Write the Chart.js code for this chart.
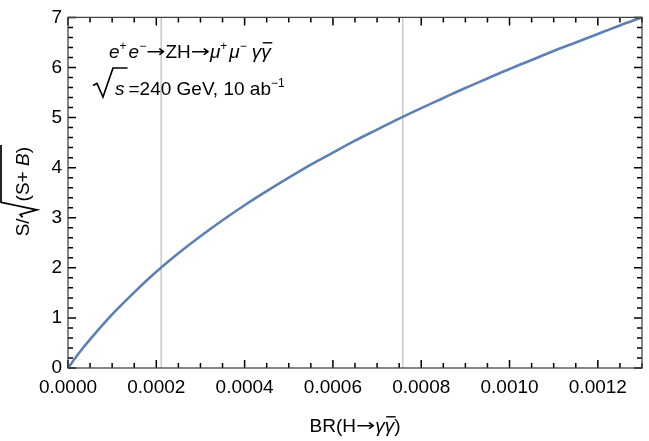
<!DOCTYPE html>
<html>
<head>
<meta charset="utf-8">
<script src="https://cdn.jsdelivr.net/npm/chart.js@4.4.0/dist/chart.umd.min.js"></script>
<style>
  html, body { margin: 0; padding: 0; background: #fff; }
  #wrap { width: 649px; height: 441px; }
</style>
</head>
<body>
<div id="wrap"><canvas id="chart"></canvas></div>
<script>
// values
const brValues = [0, 0.000025, 0.00005, 0.0001, 0.00015, 0.0002, 0.00025, 0.0003, 0.00035,
  0.0004, 0.00045, 0.0005, 0.00055, 0.0006, 0.00065, 0.0007, 0.00075, 0.0008, 0.00085,
  0.0009, 0.00095, 0.001, 0.00105, 0.0011, 0.00115, 0.0012, 0.00125, 0.0013];
const significance = [0, 0.30, 0.57, 1.07, 1.51, 1.92, 2.29, 2.63, 2.95,
  3.25, 3.53, 3.80, 4.06, 4.30, 4.54, 4.76, 4.98, 5.19, 5.39,
  5.59, 5.78, 5.97, 6.15, 6.33, 6.50, 6.67, 6.84, 7.00];
const refLines = [0.000211, 0.000758];
const xTickValues = [0, 0.0002, 0.0004, 0.0006, 0.0008, 0.0010, 0.0012];
const xRange = [0, 0.0013];
const yRange = [0, 7];

const FONT = 'Liberation Sans, Arial, sans-serif';
const ARROW_FONT = 'DejaVu Sans';
const ARROW_STRETCH = 1.35;
const CURVE = '#5e81b5';

function font(size, italic, fam) {
    return (italic ? 'italic ' : '') + size + 'px ' + (fam || FONT);
}

function runFont(r, size) {
    const s = r.sup ? Math.round(size * 0.62) : size;
    return font(r.arrow ? size - 2 : s, r.it, r.arrow ? ARROW_FONT : null);
}

function runW(ctx, r, size) {
    ctx.font = runFont(r, size);
    return ctx.measureText(r.t).width * (r.arrow ? ARROW_STRETCH : 1);
}

function runsWidth(ctx, runs, size) {
    return runs.reduce((w, r) => w + runW(ctx, r, size) + (r.gap || 0), 0);
}

// draws text runs (italic / superscript / arrows) left to right, returns end x
function drawRuns(ctx, x, y, runs, size) {
    runs.forEach(r => {
        const w = runW(ctx, r, size);
        if (r.arrow) {
            ctx.save();
            ctx.translate(x, y - 1);
            ctx.scale(ARROW_STRETCH, 1);
            ctx.fillText(r.t, 0, 0);
            ctx.restore();
        } else {
            ctx.fillText(r.t, x, y + (r.sup ? -size * 0.42 : 0));
        }
        if (r.bar) {
            ctx.beginPath();
            ctx.lineWidth = 1.4;
            ctx.moveTo(x + 1.5, y - size * 0.8);
            ctx.lineTo(x + w + 1.5, y - size * 0.8);
            ctx.stroke();
        }
        x += w + (r.gap || 0);
    });
    return x;
}

function radical(ctx, x, yTop, yBot, vWidth, endX) {
    const h = yBot - yTop;
    ctx.beginPath();
    ctx.lineWidth = 1.7;
    ctx.moveTo(x, yTop + h * 0.6);
    ctx.lineTo(x + vWidth * 0.2, yTop + h * 0.53);
    ctx.lineTo(x + vWidth * 0.5, yBot);
    ctx.lineTo(x + vWidth, yTop);
    ctx.lineTo(endX, yTop);
    ctx.stroke();
    return x + vWidth;
}

const framePlugin = {
    id: 'frame',
    beforeDatasetsDraw(chart) {
        const { ctx, chartArea: a, scales: { x } } = chart;
        ctx.save();
        ctx.strokeStyle = '#c9c9c9';
        ctx.lineWidth = 1.5;
        refLines.forEach(v => {
            const px = x.getPixelForValue(v);
            ctx.beginPath();
            ctx.moveTo(px, a.top);
            ctx.lineTo(px, a.bottom);
            ctx.stroke();
        });
        ctx.restore();
    },
    afterDraw(chart) {
        const { ctx, chartArea: a, scales: { x, y } } = chart;
        ctx.save();
        ctx.strokeStyle = '#000';
        ctx.fillStyle = '#000';
        ctx.lineWidth = 1.5;

        // ticks on all four sides, pointing inward
        const tick = (px, len, vertical) => {
            ctx.beginPath();
            if (vertical) {
                ctx.moveTo(px, a.bottom); ctx.lineTo(px, a.bottom - len);
                ctx.moveTo(px, a.top); ctx.lineTo(px, a.top + len);
            } else {
                ctx.moveTo(a.left, px); ctx.lineTo(a.left + len, px);
                ctx.moveTo(a.right, px); ctx.lineTo(a.right - len, px);
            }
            ctx.stroke();
        };
        for (let i = 0; i <= 26; i++) {
            tick(x.getPixelForValue(i * 0.00005), i % 4 === 0 ? 8 : 5, true);
        }
        for (let i = 0; i <= 35; i++) {
            tick(y.getPixelForValue(i * 0.2), i % 5 === 0 ? 8 : 5, false);
        }

        ctx.lineWidth = 1.3;
        ctx.strokeStyle = '#444';
        ctx.strokeRect(a.left, a.top, a.right - a.left, a.bottom - a.top);

        ctx.strokeStyle = '#000';
        ctx.textBaseline = 'alphabetic';
        ctx.textAlign = 'left';

        // annotation, line 1
        drawRuns(ctx, 109, 58, [
            { t: 'e', it: true }, { t: '+', sup: true, gap: 2 },
            { t: 'e', it: true }, { t: '\u2212', sup: true },
            { t: '\u2192', arrow: true }, { t: 'ZH' }, { t: '\u2192', arrow: true },
            { t: '\u03bc', it: true }, { t: '+', sup: true, gap: 2 },
            { t: '\u03bc', it: true }, { t: '\u2212', sup: true, gap: 5 },
            { t: '\u03b3', it: true }, { t: '\u03b3', it: true, bar: true }
        ], 19);

        // annotation, line 2: sqrt(s) = 240 GeV, 10 ab^-1
        ctx.font = font(19, true);
        const sW = ctx.measureText('s').width;
        const sx = radical(ctx, 93, 68, 97, 20, 93 + 20 + sW + 5);
        drawRuns(ctx, sx + 2, 95, [
            { t: 's', it: true, gap: 4 },
            { t: '=240 GeV, 10 ab' }, { t: '\u22121', sup: true }
        ], 19);

        // x axis title
        const parts = [{ t: 'BR(H' }, { t: '\u2192', arrow: true }, { t: '\u03b3', it: true },
            { t: '\u03b3', it: true, bar: true }, { t: ')' }];
        const tw = runsWidth(ctx, parts, 19);
        drawRuns(ctx, (a.left + a.right) / 2 - tw / 2, 432, parts, 19);

        // y axis title, rotated
        ctx.save();
        ctx.translate(29, (a.top + a.bottom) / 2);
        ctx.rotate(-Math.PI / 2);
        const yParts = [{ t: '(S+ ' }, { t: 'B', it: true }, { t: ')' }];
        const inner = runsWidth(ctx, yParts, 19);
        ctx.font = font(19);
        const slashW = ctx.measureText('S/').width;
        const total = slashW + 15 + inner;
        let cx = -total / 2;
        ctx.fillText('S/', cx, 0);
        cx += slashW + 1;
        cx = radical(ctx, cx, -28, 8, 15, cx + 15 + inner + 3);
        drawRuns(ctx, cx + 1, 0, yParts, 19);
        ctx.restore();

        ctx.restore();
    }
};

new Chart(document.getElementById('chart'), {
    type: 'scatter',
    data: {
        datasets: [{
            data: brValues.map((v, i) => ({ x: v, y: significance[i] })),
            showLine: true,
            borderColor: CURVE,
            borderWidth: 2.6,
            pointRadius: 0,
            cubicInterpolationMode: 'monotone',
            fill: false
        }]
    },
    options: {
        responsive: true,
        maintainAspectRatio: false,
        animation: false,
        layout: { padding: { top: 12, right: 7, left: 0, bottom: 0 } },
        plugins: { legend: { display: false }, tooltip: { enabled: false } },
        scales: {
            x: {
                type: 'linear',
                min: xRange[0],
                max: xRange[1],
                grid: { display: false, drawTicks: false },
                border: { display: false },
                afterFit: s => { s.height = 73; },
                afterBuildTicks: s => {
                    s.ticks = xTickValues.map(v => ({ value: v }));
                },
                ticks: {
                    padding: 8,
                    color: '#000',
                    autoSkip: false,
                    font: { family: FONT, size: 19 },
                    maxRotation: 0,
                    callback: v => v.toFixed(4)
                }
            },
            y: {
                min: yRange[0],
                max: yRange[1],
                grid: { display: false, drawTicks: false },
                border: { display: false },
                afterFit: s => { s.width = 68; },
                ticks: {
                    stepSize: 1,
                    padding: 6,
                    color: '#000',
                    font: { family: FONT, size: 19 }
                }
            }
        }
    },
    plugins: [framePlugin]
});
</script>
</body>
</html>
